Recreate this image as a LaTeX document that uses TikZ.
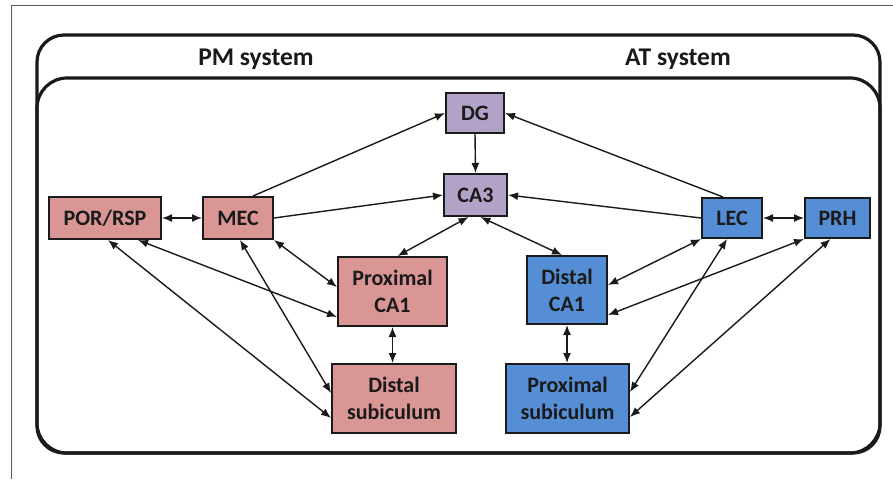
\documentclass[tikz,border=0pt]{standalone}
\usepackage{fontspec}
\setmainfont{Carlito}
\usetikzlibrary{arrows.meta}
\definecolor{pmpink}{HTML}{D99694}
\definecolor{dgpurple}{HTML}{B3A2C7}
\definecolor{atblue}{HTML}{558ED5}
\definecolor{inkc}{HTML}{1A1A1A}
\begin{document}
\begin{tikzpicture}[x=1pt,y=-1pt,
  box/.style={draw=inkc,line width=2pt,inner sep=0pt,align=center,font=\fontsize{22}{27}\selectfont\bfseries,text=inkc},
  pmbox/.style={box,fill=pmpink},
  hcbox/.style={box,fill=dgpurple},
  atbox/.style={box,fill=atblue},
  conn/.style={line width=1.4pt,draw=inkc,-{Latex[length=10pt,width=8pt]}},
  bconn/.style={line width=1.4pt,draw=inkc,{Latex[length=10pt,width=8pt]}-{Latex[length=10pt,width=8pt]}},
  titletext/.style={font=\fontsize{25.5}{30}\selectfont\bfseries,text=inkc}]
\useasboundingbox (0,0) rectangle (893,479);
\fill[white] (0,0) rectangle (893,479);
% frame
\draw[gray!70!black,line width=0.8pt] (11,479) -- (11,5.5) -- (893,5.5);
% containers
\draw[inkc,line width=3.2pt,rounded corners=27pt] (37,35) rectangle (880,453);
\draw[inkc,line width=3.2pt,rounded corners=30pt] (37,78) rectangle (880,453);
\node[titletext] (pmt) at (256,59.5) {PM system};
\node[titletext] (att) at (678,59.5) {AT system};
% nodes
\node[hcbox,minimum width=58pt,minimum height=40pt] (dg) at (475,113) {DG};
\node[hcbox,minimum width=63pt,minimum height=42pt] (ca3) at (475.5,195) {CA3};
\node[atbox,minimum width=60pt,minimum height=40pt] (lec) at (732,218) {LEC};
\node[atbox,minimum width=65pt,minimum height=40pt] (prh) at (837.5,218) {PRH};
\node[pmbox,minimum width=112pt,minimum height=42pt] (por) at (105,218) {POR/RSP};
\node[pmbox,minimum width=70pt,minimum height=42pt] (mec) at (238,218) {MEC};
\node[pmbox,minimum width=109pt,minimum height=69pt] (pca1) at (392.5,291.5) {Proximal\\CA1};
\node[pmbox,minimum width=124pt,minimum height=69pt] (dsub) at (394,398.5) {Distal\\subiculum};
\node[atbox,minimum width=80pt,minimum height=68pt] (dca1) at (567,290) {Distal\\CA1};
\node[atbox,minimum width=123pt,minimum height=69pt] (psub) at (567.5,398.5) {Proximal\\subiculum};
% connectors
\draw[bconn] (por.east) -- (mec.west);
\draw[conn] ([xshift=15pt]mec.north) -- (dg.west);
\draw[conn] (mec.east) -- (ca3.west);
\draw[conn] (dg.south) -- (ca3.north);
\draw[conn] ([xshift=-9pt]lec.north) -- (dg.east);
\draw[conn] (lec.west) -- (ca3.east);
\draw[bconn] (lec.east) -- (prh.west);
\draw[bconn] ([xshift=-7pt]ca3.south) -- ([xshift=5pt]pca1.north);
\draw[bconn] ([xshift=5pt]ca3.south) -- ([xshift=-5pt]dca1.north);
\draw[bconn] (mec.south east) -- ([yshift=4.5pt]pca1.west);
\draw[bconn] ([xshift=2pt]mec.south) -- ([yshift=5.5pt]dsub.west);
\draw[bconn] ([xshift=33pt]por.south) -- ([yshift=-25.5pt]pca1.west);
\draw[bconn] ([xshift=3pt]por.south) -- ([yshift=-19.5pt]dsub.west);
\draw[bconn] (pca1.south) -- (pca1.south |- dsub.north);
\draw[bconn] (dca1.south) -- (dca1.south |- psub.north);
\draw[bconn] (lec.south west) -- ([yshift=5pt]dca1.east);
\draw[bconn] ([xshift=-5pt]lec.south) -- ([yshift=6.5pt]psub.east);
\draw[bconn] (prh.south west) -- ([yshift=-25pt]dca1.east);
\draw[bconn] ([xshift=-7pt]prh.south) -- ([yshift=-18.5pt]psub.east);
\end{tikzpicture}
\end{document}
